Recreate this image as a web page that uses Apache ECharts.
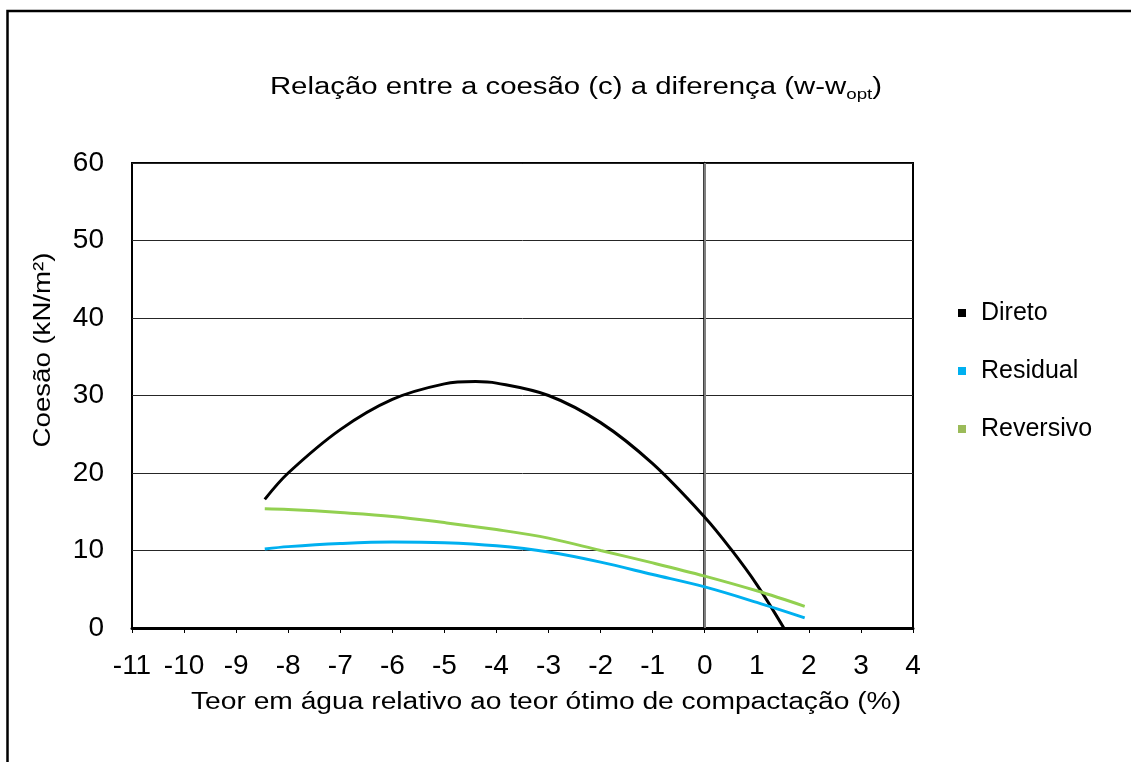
<!DOCTYPE html>
<html>
<head>
<meta charset="utf-8">
<script src="https://cdn.jsdelivr.net/npm/echarts@6/dist/echarts.min.js"></script>
<style>
  html, body { margin: 0; padding: 0; background: #fff; }
  #chart { width: 1131px; height: 762px; }
</style>
</head>
<body>
<div id="chart"></div>
<script>
// Water content relative to optimum (%) and cohesion (kN/m²) along each fitted curve
const direto_x = [-8.45, -8, -7, -6, -5, -4.4, -4, -3, -2, -1, 0, 0.5, 1, 1.52];
const direto_y = [16.6, 20.0, 25.6, 29.5, 31.5, 31.8, 31.6, 30.0, 26.5, 21.2, 14.3, 10.2, 5.6, 0];

const residual_x = [-8.45, -8, -7, -6, -5, -4, -3, -2, -1, 0, 1, 1.92];
const residual_y = [10.2, 10.5, 10.9, 11.1, 11.0, 10.6, 9.8, 8.5, 6.9, 5.3, 3.3, 1.3];

const reversivo_x = [-8.45, -8, -7, -6, -5, -4, -3, -2, -1, 0, 1, 1.92];
const reversivo_y = [15.4, 15.3, 14.9, 14.4, 13.6, 12.7, 11.6, 10.0, 8.4, 6.7, 4.8, 2.8];

const seriesNames = ['Direto', 'Residual', 'Reversivo'];
const xTicks = { min: -11, max: 4, step: 1 };
const yTicks = { min: 0, max: 60, step: 10 };

const pairs = (xs, ys) => xs.map((x, i) => [x, ys[i]]);
const FONT = '"Liberation Sans", Arial, sans-serif';

const chart = echarts.init(document.getElementById('chart'), null, { renderer: 'canvas' });

const lineSeries = (name, data, lineColor, iconColor) => ({
  name,
  type: 'line',
  data,
  smooth: 0.35,
  showSymbol: false,
  symbol: 'none',
  clip: true,
  lineStyle: { color: lineColor, width: 3 },
  itemStyle: { color: iconColor },
  emphasis: { disabled: true }
});

const series = [
  lineSeries(seriesNames[0], pairs(direto_x, direto_y), '#000000', '#000000'),
  lineSeries(seriesNames[1], pairs(residual_x, residual_y), '#00B0F0', '#00B0F0'),
  lineSeries(seriesNames[2], pairs(reversivo_x, reversivo_y), '#92D050', '#9BBB59')
];

// vertical axis line crossing at x = 0
series[0].markLine = {
  silent: true,
  symbol: ['none', 'none'],
  label: { show: false },
  lineStyle: { color: '#7f7f7f', width: 2, type: 'solid' },
  data: [{ xAxis: 0 }],
  z: 1
};

chart.setOption({
  animation: false,
  backgroundColor: '#ffffff',
  textStyle: { fontFamily: FONT },
  grid: {
    left: 132, right: 218, top: 163, bottom: 134,
    show: true, borderColor: '#000', borderWidth: 2, backgroundColor: 'transparent'
  },
  legend: {
    orient: 'vertical',
    left: 953,
    top: 295,
    itemWidth: 8,
    itemHeight: 8,
    itemGap: 32,
    icon: 'rect',
    data: seriesNames,
    textStyle: { fontSize: 25, color: '#000', fontFamily: FONT, padding: [0, 0, 0, 10], lineHeight: 26 }
  },
  xAxis: {
    type: 'value',
    min: xTicks.min, max: xTicks.max, interval: xTicks.step,
    axisLine: { show: true, onZero: false, lineStyle: { color: '#000', width: 3 } },
    axisTick: { show: true, inside: false, length: 5, lineStyle: { color: '#000', width: 1 } },
    splitLine: { show: false },
    axisLabel: { fontSize: 28, color: '#000', margin: 24, fontFamily: FONT }
  },
  yAxis: {
    type: 'value',
    min: yTicks.min, max: yTicks.max, interval: yTicks.step,
    axisLine: { show: true, lineStyle: { color: '#000', width: 2.5 } },
    axisTick: { show: true, inside: false, length: 5, lineStyle: { color: '#000', width: 1 } },
    splitLine: { show: true, lineStyle: { color: '#262626', width: 1 } },
    axisLabel: { fontSize: 28, color: '#000', margin: 28, fontFamily: FONT }
  },
  series,
  graphic: [
    {
      type: 'rect',
      silent: true,
      shape: { x: 7.5, y: 11, width: 1200, height: 1000 },
      style: { fill: 'none', stroke: '#000', lineWidth: 2.5 },
      z: 100
    },
    {
      type: 'text',
      silent: true,
      x: 576, y: 88,
      scaleX: 1.25,
      style: {
        text: '{a|Relação entre a coesão (c) a diferença (w-w}{s|opt}{a|)}',
        align: 'center',
        verticalAlign: 'middle',
        fontFamily: FONT,
        rich: {
          a: { fontSize: 23.5, fill: '#000', fontFamily: FONT, lineHeight: 30, verticalAlign: 'middle' },
          s: { fontSize: 15, fill: '#000', fontFamily: FONT, lineHeight: 30, verticalAlign: 'middle', padding: [14, 0, 0, 0] }
        }
      }
    },
    {
      type: 'text',
      silent: true,
      x: 43, y: 350,
      rotation: Math.PI / 2,
      scaleX: 1.15,
      style: {
        text: 'Coesão (kN/m²)',
        align: 'center',
        verticalAlign: 'middle',
        fontSize: 24,
        fill: '#000',
        fontFamily: FONT
      }
    },
    {
      type: 'text',
      silent: true,
      x: 546, y: 703,
      scaleX: 1.2,
      style: {
        text: 'Teor em água relativo ao teor ótimo de compactação (%)',
        align: 'center',
        verticalAlign: 'middle',
        fontSize: 23.5,
        fill: '#000',
        fontFamily: FONT
      }
    }
  ]
});
</script>
</body>
</html>
